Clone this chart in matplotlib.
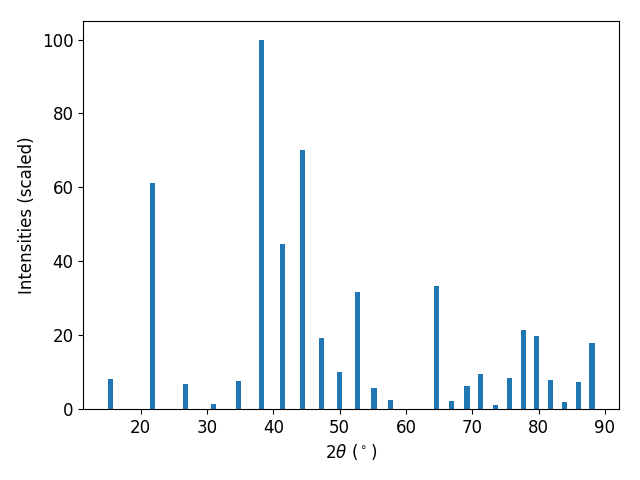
import matplotlib
matplotlib.use("Agg")
import matplotlib.pyplot as plt

plt.rcParams["font.size"] = 12

# peak positions (2theta, degrees) and scaled intensities
two_theta = [15.4, 21.8, 26.8, 31.0, 34.8, 38.2, 41.4, 44.4, 47.3, 50.0,
             52.7, 55.2, 57.7, 64.65, 66.9, 69.2, 71.3, 73.5, 75.6, 77.7,
             79.7, 81.85, 83.95, 86.0, 88.05]
intensity = [8.1, 61.3, 6.7, 1.4, 7.6, 100.0, 44.7, 70.2, 19.3, 10.0,
             31.7, 5.7, 2.4, 33.3, 2.2, 6.2, 9.5, 1.1, 8.4, 21.4,
             19.8, 7.9, 1.9, 7.3, 17.9]

fig, ax = plt.subplots(figsize=(6.4, 4.8), dpi=100)
ax.bar(two_theta, intensity, width=0.8)
ax.set_xlabel(r"$2\theta$ ($^\circ$)")
ax.set_ylabel("Intensities (scaled)")
fig.subplots_adjust(left=0.13, right=0.967, top=0.956, bottom=0.148)
fig.savefig("out.png")
